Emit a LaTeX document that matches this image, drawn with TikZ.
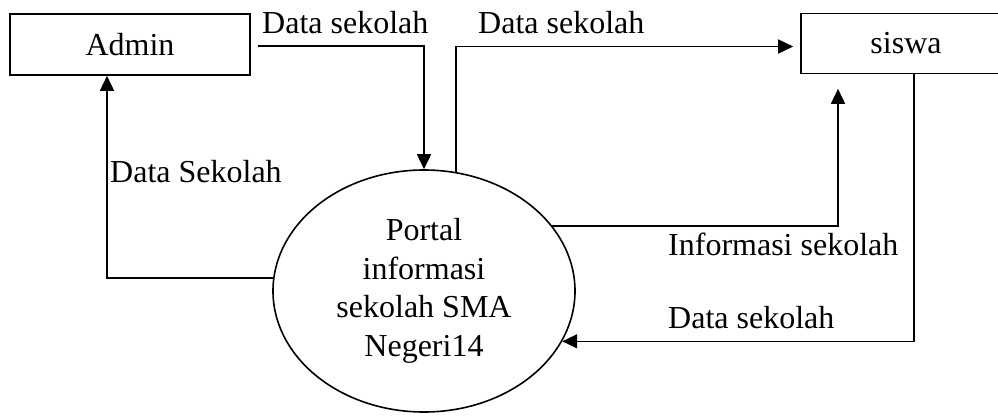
\documentclass[tikz,border=0pt]{standalone}
\usepackage{fontspec}
\setmainfont{Liberation Serif}
\usetikzlibrary{arrows.meta,shapes.geometric}
\begin{document}
\begin{tikzpicture}[x=1pt,y=-1pt,
  every node/.style={font=\fontsize{32}{38.5}\selectfont},
  entity/.style={draw,line width=1.6pt,rectangle,inner sep=0pt},
  procbox/.style={draw,line width=1.6pt,ellipse,inner sep=0pt,minimum width=302pt,minimum height=242pt,align=center},
  lbl/.style={anchor=base west,inner sep=0pt},
  flow/.style={line width=1.6pt,-{Triangle[length=15pt,width=14pt]}},
  plain/.style={line width=1.6pt}]
\useasboundingbox (0,0) rectangle (998,415);
\clip (0,0) rectangle (998,415);
\fill[white] (0,0) rectangle (998,415);
\node[entity,minimum width=240pt,minimum height=61pt] (admin) at (130,44.5) {Admin};
\node[entity,minimum width=210pt,minimum height=60pt] (siswa) at (906,43.5) {siswa};
\node[procbox] (proc) at (424,291) {Portal\\informasi\\sekolah SMA\\Negeri14};
% flows
\draw[flow] ([xshift=7pt,yshift=-1.5pt]admin.east) -| (proc.north);
\draw[flow] (proc.175) -| ([xshift=-23pt]admin.south);
\draw[flow] (proc.75) |- ([xshift=-7pt,yshift=-3pt]siswa.west);
\draw[flow] (proc.27.5) -| ([xshift=-68pt,yshift=-14.5pt]siswa.south);
\draw[flow] ([xshift=8pt]siswa.south) |- (proc.340);
% labels
\node[lbl] (l1) at (262,33) {Data sekolah};
\node[lbl] (l2) at (478,33) {Data sekolah};
\node[lbl] (l3) at (110,182) {Data Sekolah};
\node[lbl] (l4) at (668,255) {Informasi sekolah};
\node[lbl] (l5) at (668,328) {Data sekolah};
\end{tikzpicture}
\end{document}
